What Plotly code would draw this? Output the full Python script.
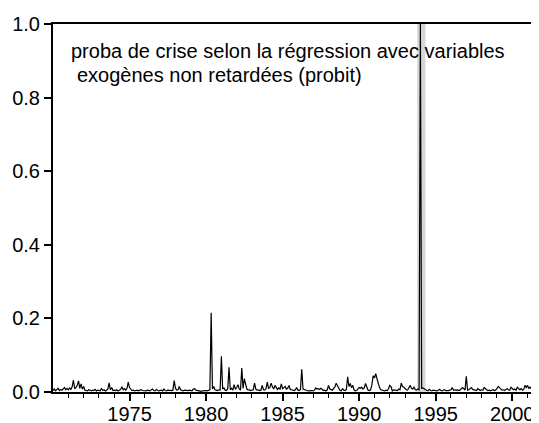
import plotly.graph_objects as go

# Monthly crisis probability (probit, non-lagged exogenous variables), Jan 1970 - Sep 2001
p1970 = [0.004, 0.008, 0.003, 0.006, 0.010, 0.004, 0.007, 0.005, 0.009, 0.012, 0.006, 0.010]
p1971 = [0.006, 0.011, 0.007, 0.014, 0.032, 0.009, 0.012, 0.018, 0.030, 0.010, 0.022, 0.008]
p1972 = [0.015, 0.005, 0.004, 0.003, 0.006, 0.004, 0.003, 0.005, 0.004, 0.007, 0.003, 0.005]
p1973 = [0.004, 0.003, 0.010, 0.004, 0.006, 0.003, 0.005, 0.008, 0.025, 0.006, 0.012, 0.004]
p1974 = [0.005, 0.004, 0.006, 0.003, 0.005, 0.007, 0.014, 0.006, 0.009, 0.005, 0.010, 0.027]
p1975 = [0.012, 0.007, 0.004, 0.005, 0.003, 0.004, 0.005, 0.003, 0.004, 0.006, 0.004, 0.003]
p1976 = [0.004, 0.003, 0.005, 0.004, 0.003, 0.006, 0.008, 0.004, 0.003, 0.007, 0.004, 0.003]
p1977 = [0.004, 0.005, 0.003, 0.008, 0.004, 0.003, 0.005, 0.004, 0.003, 0.004, 0.005, 0.031]
p1978 = [0.010, 0.005, 0.006, 0.015, 0.006, 0.004, 0.003, 0.005, 0.004, 0.003, 0.004, 0.005]
p1979 = [0.004, 0.003, 0.008, 0.009, 0.005, 0.004, 0.003, 0.004, 0.002, 0.003, 0.004, 0.003]
p1980 = [0.004, 0.003, 0.005, 0.006, 0.215, 0.008, 0.015, 0.006, 0.005, 0.004, 0.006, 0.005]
p1981 = [0.097, 0.008, 0.011, 0.005, 0.004, 0.009, 0.067, 0.006, 0.010, 0.005, 0.020, 0.007]
p1982 = [0.012, 0.020, 0.008, 0.006, 0.065, 0.010, 0.036, 0.020, 0.008, 0.005, 0.006, 0.004]
p1983 = [0.005, 0.006, 0.024, 0.008, 0.005, 0.006, 0.004, 0.005, 0.018, 0.006, 0.005, 0.009]
p1984 = [0.027, 0.010, 0.012, 0.024, 0.014, 0.008, 0.018, 0.011, 0.007, 0.011, 0.008, 0.022]
p1985 = [0.009, 0.012, 0.015, 0.008, 0.010, 0.018, 0.007, 0.006, 0.005, 0.004, 0.006, 0.012]
p1986 = [0.005, 0.004, 0.007, 0.062, 0.008, 0.006, 0.005, 0.004, 0.003, 0.004, 0.003, 0.004]
p1987 = [0.003, 0.005, 0.011, 0.008, 0.009, 0.007, 0.010, 0.008, 0.004, 0.005, 0.003, 0.006]
p1988 = [0.018, 0.008, 0.006, 0.005, 0.010, 0.014, 0.024, 0.016, 0.013, 0.004, 0.003, 0.009]
p1989 = [0.005, 0.004, 0.007, 0.041, 0.015, 0.023, 0.012, 0.018, 0.006, 0.003, 0.004, 0.008]
p1990 = [0.012, 0.010, 0.013, 0.008, 0.011, 0.023, 0.012, 0.005, 0.004, 0.006, 0.020, 0.044]
p1991 = [0.038, 0.050, 0.036, 0.023, 0.012, 0.006, 0.005, 0.004, 0.003, 0.005, 0.004, 0.008]
p1992 = [0.018, 0.015, 0.003, 0.006, 0.005, 0.006, 0.004, 0.008, 0.006, 0.024, 0.015, 0.013]
p1993 = [0.009, 0.006, 0.005, 0.012, 0.018, 0.010, 0.008, 0.013, 0.006, 0.005, 0.008, 0.006]
p1994 = [1.000, 0.010, 0.011, 0.009, 0.005, 0.004, 0.003, 0.007, 0.004, 0.003, 0.005, 0.004]
p1995 = [0.005, 0.003, 0.004, 0.007, 0.004, 0.003, 0.005, 0.006, 0.004, 0.003, 0.004, 0.005]
p1996 = [0.006, 0.012, 0.005, 0.006, 0.004, 0.006, 0.004, 0.005, 0.008, 0.012, 0.009, 0.005]
p1997 = [0.043, 0.005, 0.006, 0.009, 0.012, 0.007, 0.006, 0.005, 0.004, 0.009, 0.007, 0.004]
p1998 = [0.006, 0.005, 0.012, 0.008, 0.006, 0.004, 0.005, 0.003, 0.005, 0.006, 0.004, 0.005]
p1999 = [0.009, 0.015, 0.012, 0.008, 0.005, 0.006, 0.004, 0.007, 0.009, 0.006, 0.005, 0.013]
p2000 = [0.009, 0.006, 0.008, 0.005, 0.013, 0.008, 0.006, 0.009, 0.005, 0.007, 0.018, 0.012]
p2001 = [0.018, 0.010, 0.013, 0.009, 0.015, 0.008, 0.012, 0.009, 0.005]

yearly = [p1970, p1971, p1972, p1973, p1974, p1975, p1976, p1977, p1978, p1979,
          p1980, p1981, p1982, p1983, p1984, p1985, p1986, p1987, p1988, p1989,
          p1990, p1991, p1992, p1993, p1994, p1995, p1996, p1997, p1998, p1999,
          p2000, p2001]
start_year = 1970

# crisis period shading (late 1993 - spring 1994)
crisis_start = 1993.79
crisis_end = 1994.33

tick_years = [1975, 1980, 1985, 1990, 1995, 2000]
minor_years = list(range(1971, 2002))
y_ticks = [0.0, 0.2, 0.4, 0.6, 0.8, 1.0]

label_line1 = "proba de crise selon la régression avec variables"
label_line2 = "exogènes non retardées (probit)"

x = []
y = []
for i, vals in enumerate(yearly):
    for m, v in enumerate(vals):
        x.append(start_year + i + m / 12.0)
        y.append(v)

FONT = "Liberation Sans, Arial, sans-serif"
FS = 20

# the page body adds an 8px offset; the figure is sized so that it fills the window
W, H = 531, 415
ML, MR, MT, MB = 45, 0, 16, 31
PW, PH = W - ML - MR, H - MT - MB


def px_to_paper_x(px):
    return (px - ML) / PW


def px_to_paper_y(py):
    return (MT + PH - py) / PH


fig = go.Figure()
fig.add_trace(go.Scatter(x=x, y=y, mode="lines",
                         line=dict(color="black", width=1.2),
                         hoverinfo="skip", showlegend=False))

fig.add_shape(type="rect", xref="x", yref="y", x0=crisis_start, x1=crisis_end,
              y0=0, y1=1, fillcolor="#d6d6d6", line=dict(width=0), layer="below")

fig.add_annotation(text=label_line1, xref="paper", yref="paper",
                   x=px_to_paper_x(61), y=px_to_paper_y(43),
                   xanchor="left", yanchor="middle", showarrow=False,
                   font=dict(family=FONT, size=FS, color="black"))
fig.add_annotation(text=label_line2, xref="paper", yref="paper",
                   x=px_to_paper_x(67), y=px_to_paper_y(67),
                   xanchor="left", yanchor="middle", showarrow=False,
                   font=dict(family=FONT, size=FS, color="black"))

fig.update_layout(
    width=W, height=H,
    margin=dict(l=ML, r=MR, t=MT, b=MB, pad=0),
    paper_bgcolor="white", plot_bgcolor="white",
    font=dict(family=FONT, size=FS, color="black"),
    showlegend=False,
    xaxis=dict(range=[1970.0, 2001.75], tickvals=tick_years,
               ticktext=[str(t) for t in tick_years],
               ticks="outside", ticklen=7, tickwidth=1.5, tickcolor="black",
               ticklabelstandoff=-4, automargin=False,
               showline=True, linecolor="black", linewidth=2, mirror=True,
               showgrid=False, zeroline=False,
               minor=dict(tickvals=minor_years, ticks="outside", ticklen=4,
                          tickwidth=1, tickcolor="black", showgrid=False)),
    yaxis=dict(range=[0, 1], tickvals=y_ticks,
               ticktext=["%.1f" % t for t in y_ticks],
               ticks="outside", ticklen=7, tickwidth=1.5, tickcolor="black",
               automargin=False,
               showline=True, linecolor="black", linewidth=2, mirror=False,
               showgrid=False, zeroline=False),
)

fig.write_html("out.html")
